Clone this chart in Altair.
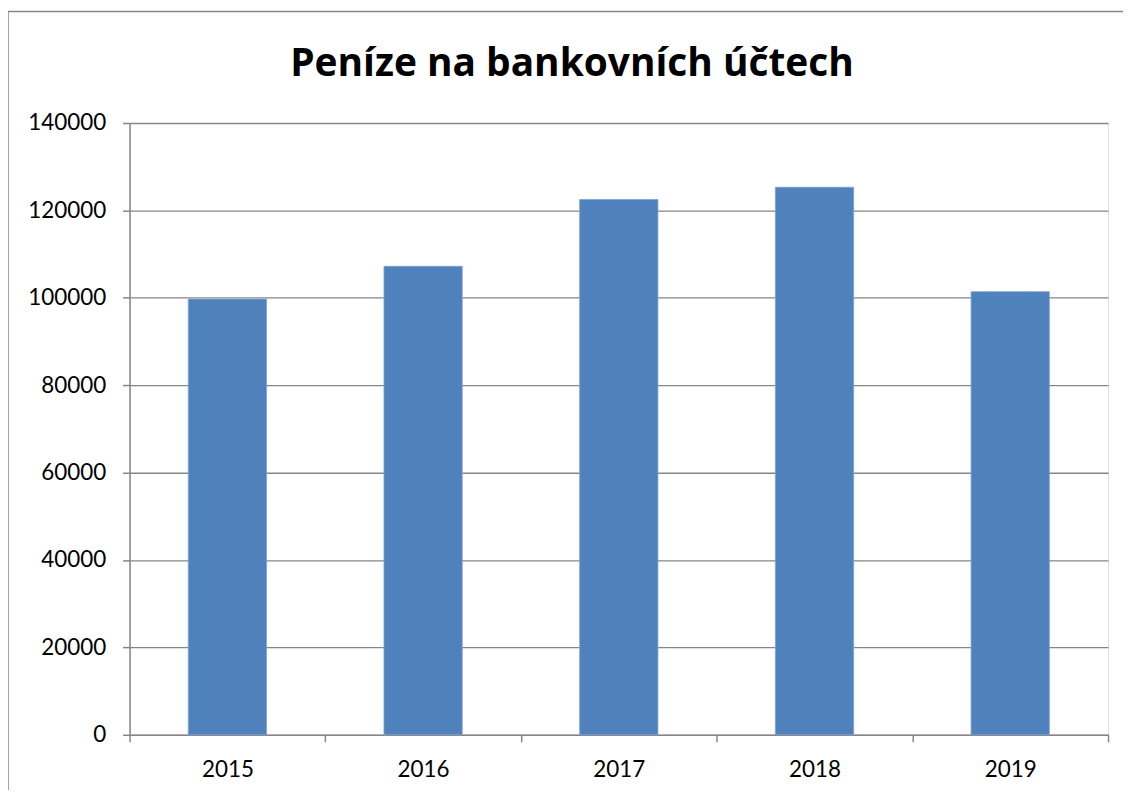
import altair as alt
import pandas as pd

years = ["2015", "2016", "2017", "2018", "2019"]
values = [99700, 107200, 122500, 125300, 101400]
y_ticks = [0, 20000, 40000, 60000, 80000, 100000, 120000, 140000]
title_text = "Peníze na bankovních účtech"

df = pd.DataFrame({"rok": years, "hodnota": values})

FONT = "Lato"
GRID = "#868686"

bars = alt.Chart(df).mark_bar(
    color="#4F81BD", width={"band": 0.4}, stroke="#7FA3D3", strokeWidth=0.8
).encode(
    x=alt.X("rok:N", sort=years, title=None,
            scale=alt.Scale(paddingInner=0, paddingOuter=0),
            axis=alt.Axis(labelAngle=0, tickBand="extent", tickSize=7,
                          tickColor=GRID, domainColor=GRID, tickWidth=1.5,
                          domainWidth=1.5, labelFont=FONT, labelFontSize=22.5,
                          labelColor="black", labelPadding=17, grid=False)),
    y=alt.Y("hodnota:Q", title=None,
            scale=alt.Scale(domain=[0, 140000], nice=False),
            axis=alt.Axis(values=y_ticks, format="d", tickSize=7, tickColor=GRID,
                          tickWidth=1.5, domainColor=GRID, domainWidth=1.5,
                          grid=True, gridColor=GRID, gridWidth=1.3,
                          labelFont=FONT, labelFontSize=22.5, labelColor="black",
                          labelPadding=17)),
)

border_df = pd.DataFrame({"b": [0]})
border = alt.Chart(border_df).mark_rect(
    fill=None, stroke="#868686", strokeWidth=1.5
).encode(
    x=alt.value(-122), x2=alt.value(1040),
    y=alt.value(-112), y2=alt.value(700),
)

chart = alt.layer(border, bars).properties(
    width=982, height=614,
    autosize=alt.AutoSizeParams(type="none"),
    padding={"left": 122, "top": 114, "right": 15, "bottom": 54},
    title=alt.TitleParams(title_text, font="Open Sans", fontSize=39, fontWeight="bold",
                          color="black", anchor="middle", frame="group",
                          baseline="alphabetic", dx=-47, dy=105, offset=0),
).configure_view(stroke=None).configure(background="white")

chart.save("out.html", embed_options={"renderer": "svg", "actions": False})
